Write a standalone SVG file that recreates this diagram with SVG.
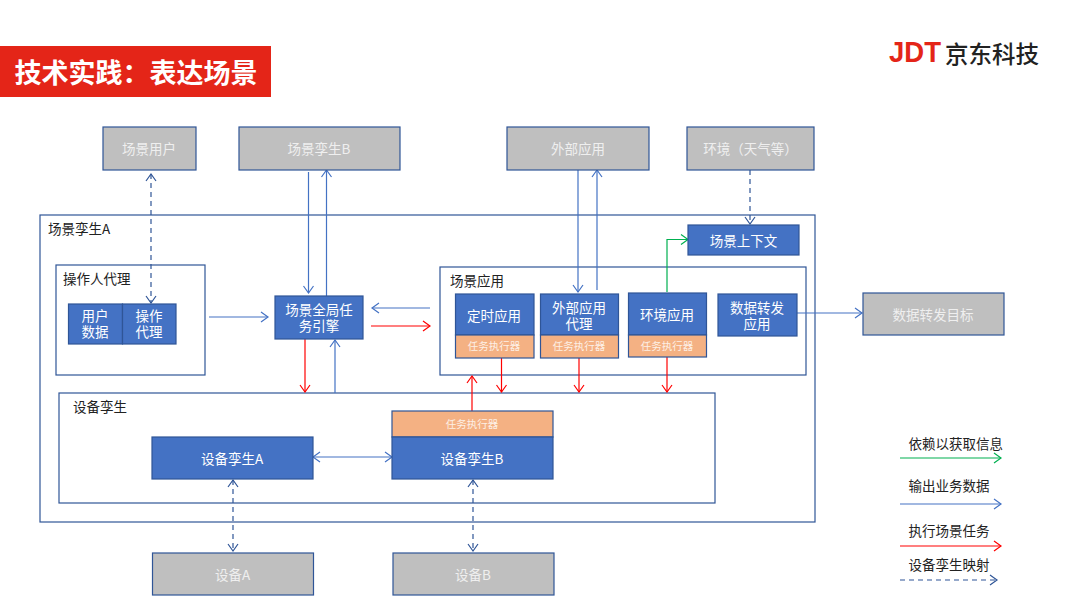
<svg xmlns="http://www.w3.org/2000/svg" width="1080" height="608" viewBox="0 0 1080 608">
<style>
text{font-family:"Noto Sans CJK SC","Noto Sans",sans-serif;text-anchor:middle;dominant-baseline:central}
.b{fill:#4472c4;stroke:#2f5597;stroke-width:1.2}
.g{fill:#bfbfbf;stroke:#2f5597;stroke-width:1.2}
.o{fill:#f4b183;stroke:#2f5597;stroke-width:1.2}
.f{fill:#fff;stroke:#2f5597;stroke-width:1.2}
.n{fill:none;stroke:#2f5597;stroke-width:1.2}
.tw{fill:#fff;font-size:13.5px}
.tg{fill:#efefef;font-size:13.5px}
.ts{fill:#fdf0e6;font-size:10.5px}
.tk{fill:#222;font-size:13.5px;text-anchor:start}
.c{fill:none;stroke-width:1.2}
.blue{stroke:#4472c4}
.red{stroke:#ff0000}
.green{stroke:#00b050}
.dash{stroke:#2f5597;stroke-dasharray:5 4}
</style>
<defs>
<marker id="ab" markerUnits="userSpaceOnUse" markerWidth="12" markerHeight="12" refX="10" refY="6" orient="auto-start-reverse"><path d="M3 1L10 6L3 11" fill="none" stroke="#4472c4" stroke-width="1.2"/></marker>
<marker id="ar" markerUnits="userSpaceOnUse" markerWidth="12" markerHeight="12" refX="10" refY="6" orient="auto-start-reverse"><path d="M3 1L10 6L3 11" fill="none" stroke="#ff0000" stroke-width="1.2"/></marker>
<marker id="ag" markerUnits="userSpaceOnUse" markerWidth="12" markerHeight="12" refX="10" refY="6" orient="auto-start-reverse"><path d="M3 1L10 6L3 11" fill="none" stroke="#00b050" stroke-width="1.2"/></marker>
<marker id="ad" markerUnits="userSpaceOnUse" markerWidth="12" markerHeight="12" refX="10" refY="6" orient="auto-start-reverse"><path d="M3 1L10 6L3 11" fill="none" stroke="#2f5597" stroke-width="1.2"/></marker>
</defs>
<rect width="1080" height="608" fill="#fff"/>
<g id="title"><rect x="0" y="46" width="271" height="51" fill="#e42518"/><text x="136" y="71" style="fill:#fff;font-size:27px;font-weight:700">技术实践：表达场景</text></g>
<g id="logo"><text x="889" y="62" style="fill:#e42518;font-family:'Liberation Sans',sans-serif;font-size:30px;font-weight:700;text-anchor:start;dominant-baseline:auto" textLength="52" lengthAdjust="spacingAndGlyphs">JDT</text><text x="992" y="53" style="fill:#222;font-size:23.500px;font-weight:500">京东科技</text></g>

<g id="twin-a"><rect class="n" x="40" y="215" width="775" height="307"/><text class="tk" x="48" y="227.500">场景孪生A</text></g>
<g id="operator"><rect class="f" x="56" y="265" width="149" height="110"/><text class="tk" x="63" y="277.500">操作人代理</text></g>
<g id="device-twin"><rect class="f" x="59" y="393" width="656" height="110"/><text class="tk" x="73" y="405.500">设备孪生</text></g>
<g id="scene-app"><rect class="f" x="440" y="267" width="366" height="108"/><text class="tk" x="450" y="280">场景应用</text></g>

<g id="connectors">
<path class="c dash" d="M151 174V303" marker-start="url(#ad)" marker-end="url(#ad)"/>
<path class="c blue" d="M308.500 172V293" marker-end="url(#ab)"/>
<path class="c blue" d="M326.500 296V170" marker-end="url(#ab)"/>
<path class="c blue" d="M209 317H268" marker-end="url(#ab)"/>
<path class="c blue" d="M430 308H372" marker-end="url(#ab)"/>
<path class="c red" d="M371 326H430" marker-end="url(#ar)"/>
<path class="c red" d="M305 339V392" marker-end="url(#ar)"/>
<path class="c blue" d="M335 393V340" marker-end="url(#ab)"/>
<path class="c blue" d="M578 170V292" marker-end="url(#ab)"/>
<path class="c blue" d="M597 290V170" marker-end="url(#ab)"/>
<path class="c dash" d="M750 170V224" marker-end="url(#ad)"/>
<path class="c green" d="M667 292V239.500H688" marker-end="url(#ag)"/>
<path class="c red" d="M472 411V376" marker-end="url(#ar)"/>
<path class="c red" d="M501.500 358V392" marker-end="url(#ar)"/>
<path class="c red" d="M579 358V392" marker-end="url(#ar)"/>
<path class="c red" d="M667 357V392" marker-end="url(#ar)"/>
<path class="c blue" d="M797 313H862" marker-end="url(#ab)"/>
<path class="c blue" d="M313 457H392" marker-start="url(#ab)" marker-end="url(#ab)"/>
<path class="c dash" d="M233 480V551" marker-start="url(#ad)" marker-end="url(#ad)"/>
<path class="c dash" d="M473 480V551" marker-start="url(#ad)" marker-end="url(#ad)"/>
<path class="c green" d="M900 458H1001" marker-end="url(#ag)"/>
<path class="c blue" d="M900 504H1001" marker-end="url(#ab)"/>
<path class="c red" d="M900 546H1001" marker-end="url(#ar)"/>
<path class="c dash" d="M900 580H997" marker-end="url(#ad)"/>
</g>

<g id="scene-user"><rect class="g" x="103" y="127" width="93" height="43"/><text class="tg" x="149" y="147.500">场景用户</text></g>
<g id="twin-b"><rect class="g" x="239" y="127" width="161" height="43"/><text class="tg" x="319" y="147.500">场景孪生B</text></g>
<g id="external-app"><rect class="g" x="507" y="127" width="142" height="43"/><text class="tg" x="578" y="147.500">外部应用</text></g>
<g id="environment"><rect class="g" x="687" y="127" width="127" height="43"/><text class="tg" x="750.500" y="147.500">环境（天气等）</text></g>
<g id="user-data"><rect class="b" x="68.500" y="304" width="54" height="40"/><text class="tw" x="95" y="315"><tspan x="95">用户</tspan><tspan x="95" dy="16">数据</tspan></text></g>
<g id="op-proxy"><rect class="b" x="122.500" y="304" width="53.500" height="40"/><text class="tw" x="149" y="315"><tspan x="149">操作</tspan><tspan x="149" dy="16">代理</tspan></text></g>
<g id="engine"><rect class="b" x="275" y="296" width="88" height="43"/><text class="tw" x="319" y="308.500"><tspan x="319">场景全局任</tspan><tspan x="319" dy="16.500">务引擎</tspan></text></g>
<g id="context"><rect class="b" x="688" y="225" width="111" height="30"/><text class="tw" x="743.500" y="239.500">场景上下文</text></g>
<g id="timer-app"><rect class="b" x="455.500" y="294" width="78.500" height="41"/><text class="tw" x="494" y="314.500">定时应用</text><rect class="o" x="455.500" y="335" width="78.500" height="23"/><text class="ts" x="494" y="345.500">任务执行器</text></g>
<g id="ext-proxy"><rect class="b" x="540.500" y="294" width="78" height="41"/><text class="tw" x="579" y="306.500"><tspan x="579">外部应用</tspan><tspan x="579" dy="16">代理</tspan></text><rect class="o" x="540.500" y="335" width="78" height="23"/><text class="ts" x="579" y="345.500">任务执行器</text></g>
<g id="env-app"><rect class="b" x="628.500" y="293" width="78" height="42"/><text class="tw" x="667" y="313.500">环境应用</text><rect class="o" x="628.500" y="335" width="78" height="22"/><text class="ts" x="667" y="345">任务执行器</text></g>
<g id="forward-app"><rect class="b" x="718" y="294" width="79" height="42"/><text class="tw" x="757" y="306.500"><tspan x="757">数据转发</tspan><tspan x="757" dy="16">应用</tspan></text></g>
<g id="forward-target"><rect class="g" x="863" y="293" width="141" height="42"/><text class="tg" x="933" y="313.500">数据转发目标</text></g>
<g id="dev-twin-a"><rect class="b" x="152" y="437" width="161" height="42"/><text class="tw" x="232" y="457.500">设备孪生A</text></g>
<g id="dev-twin-b"><rect class="o" x="392" y="411" width="161" height="26"/><text class="ts" x="472" y="423.500">任务执行器</text><rect class="b" x="392" y="437" width="161" height="42"/><text class="tw" x="472" y="457.500">设备孪生B</text></g>
<g id="device-a"><rect class="g" x="152.500" y="553" width="161" height="42"/><text class="tg" x="232.500" y="573.500">设备A</text></g>
<g id="device-b"><rect class="g" x="393" y="553" width="161" height="42"/><text class="tg" x="473" y="573.500">设备B</text></g>
<g id="legend">
<text class="tk" x="908.500" y="443">依赖以获取信息</text>
<text class="tk" x="908.500" y="485">输出业务数据</text>
<text class="tk" x="908.500" y="530">执行场景任务</text>
<text class="tk" x="908.500" y="564">设备孪生映射</text>
</g>
</svg>
